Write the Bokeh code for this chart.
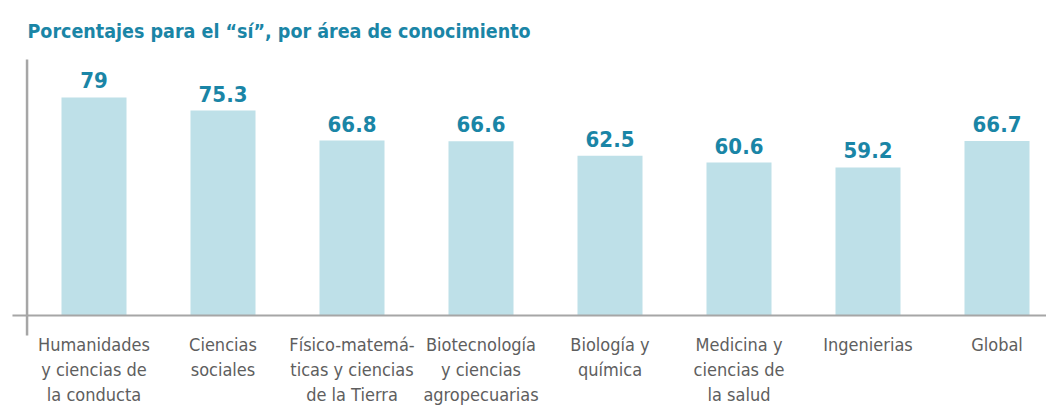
from bokeh.plotting import figure
from bokeh.models import Range1d, ColumnDataSource, Label
from bokeh.embed import file_html
from bokeh.resources import INLINE
from bokeh.core.properties import value

categorias = [
    "Humanidades\ny ciencias de\nla conducta",
    "Ciencias\nsociales",
    "Físico-matemá-\nticas y ciencias\nde la Tierra",
    "Biotecnología\ny ciencias\nagropecuarias",
    "Biología y\nquímica",
    "Medicina y\nciencias de\nla salud",
    "Ingenierias",
    "Global",
]
porcentajes = [79, 75.3, 66.8, 66.6, 62.5, 60.6, 59.2, 66.7]
etiquetas = ["79", "75.3", "66.8", "66.6", "62.5", "60.6", "59.2", "66.7"]
titulo = "Porcentajes para el \u201cs\u00ed\u201d, por \u00e1rea de conocimiento"

X_START, X_END = -0.7248, 7.3837
Y_START, Y_END = -8.98, 106.44
BASE = 17.33          # value at which the bars start (baseline of the chart)
AXIS_TOP = 89.75      # top of the vertical rule
AXIS_BOTTOM = 11.67   # bottom of the vertical rule (small stub below baseline)
AXIS_X = -0.519       # x position of the vertical rule
BASE_X0 = -0.632      # left end of the baseline

FONT = "DejaVu Sans Condensed"
TEAL = "#1a85a6"
BAR = "#bee0e8"
GRAY_TXT = "#5e5e5e"
GRAY_LINE = "#a6a6a6"

xs = list(range(len(categorias)))
src = ColumnDataSource(dict(x=xs, top=porcentajes, lab=etiquetas,
                            cat=categorias, base=[BASE] * len(xs)))

p = figure(
    width=1046, height=408, title=None,
    x_range=Range1d(X_START, X_END),
    y_range=Range1d(Y_START, Y_END),
    output_backend="svg", toolbar_location=None,
    min_border_left=0, min_border_right=0, min_border_top=0, min_border_bottom=0,
)
p.outline_line_color = None
p.xgrid.visible = False
p.ygrid.visible = False
p.xaxis.visible = False
p.yaxis.visible = False

p.vbar(x="x", top="top", bottom=BASE, width=0.504, source=src,
       fill_color=BAR, line_color=None)
p.text(x="x", y="top", text="lab", source=src, text_align="center",
       text_baseline="alphabetic", y_offset=-17, text_font=value(FONT),
       text_font_size="22px", text_font_style="bold", text_color=TEAL)
p.text(x="x", y="base", text="cat", source=src, text_align="center",
       text_baseline="top", y_offset=19, text_font=value(FONT),
       text_font_size="18px", text_color=GRAY_TXT, text_line_height=1.17)

p.segment(x0=[BASE_X0], y0=[BASE], x1=[X_END], y1=[BASE],
          line_color=GRAY_LINE, line_width=2)
p.segment(x0=[AXIS_X], y0=[AXIS_BOTTOM], x1=[AXIS_X], y1=[AXIS_TOP],
          line_color=GRAY_LINE, line_width=2.5)

p.add_layout(Label(x=27, y=377, x_units="screen", y_units="screen", text=titulo,
                   text_font=FONT, text_font_size="19.5px", text_font_style="bold",
                   text_color=TEAL, text_baseline="alphabetic"))

open("out.html", "w").write(file_html(p, INLINE))
